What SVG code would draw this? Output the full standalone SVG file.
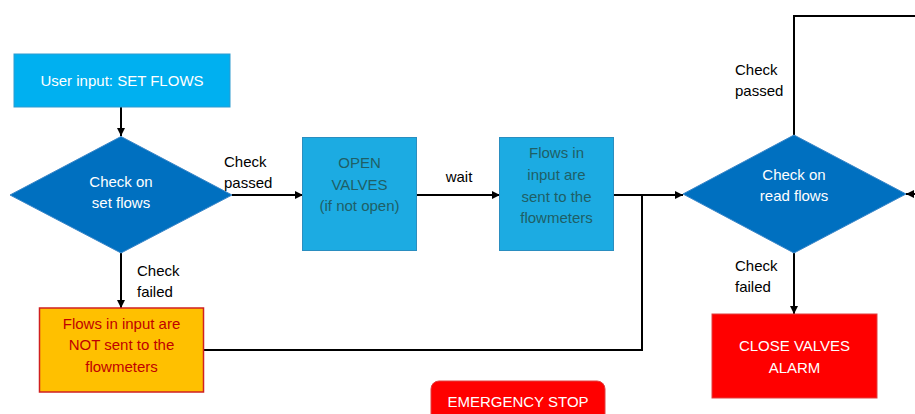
<svg xmlns="http://www.w3.org/2000/svg" width="915" height="414" viewBox="0 0 915 414">
<style>
text{font-family:"Liberation Sans",Arial,sans-serif;font-size:15px;text-anchor:middle}
.w{fill:#ffffff}
.k{fill:#000000;text-anchor:start}
.t{fill:#1f5f66}
.r{fill:#c00000}
.c{fill:none;stroke:#000000;stroke-width:2}
</style>
<defs>
<marker id="ah" viewBox="0 0 10 10" refX="10" refY="5" markerWidth="4" markerHeight="4" orient="auto" markerUnits="strokeWidth">
<path d="M0,0L10,5L0,10z" fill="#000000"/>
</marker>
</defs>
<rect width="915" height="414" fill="#ffffff"/>
<g id="connectors">
<line class="c" x1="121" y1="107" x2="121" y2="136" marker-end="url(#ah)"/>
<line class="c" x1="232" y1="195" x2="303" y2="195" marker-end="url(#ah)"/>
<line class="c" x1="417" y1="195" x2="500" y2="195" marker-end="url(#ah)"/>
<line class="c" x1="614" y1="195" x2="683" y2="195" marker-end="url(#ah)"/>
<polyline class="c" points="204,350 642,350 642,195"/>
<line class="c" x1="121" y1="253" x2="121" y2="308" marker-end="url(#ah)"/>
<polyline class="c" points="794,135 794,16 916,16"/>
<line class="c" x1="916" y1="194" x2="906" y2="194" marker-end="url(#ah)"/>
<line class="c" x1="794" y1="253" x2="794" y2="314" marker-end="url(#ah)"/>
<text class="k" x="224" y="167">Check</text>
<text class="k" x="224" y="188">passed</text>
<text x="459" y="182" style="fill:#000">wait</text>
<text class="k" x="137" y="276">Check</text>
<text class="k" x="137" y="297">failed</text>
<text class="k" x="735" y="75">Check</text>
<text class="k" x="735" y="96">passed</text>
<text class="k" x="735" y="271">Check</text>
<text class="k" x="735" y="292">failed</text>
</g>
<g id="user-input">
<rect x="14" y="54" width="216" height="53" fill="#00b0f0" stroke="#2e9bd0" stroke-width="1"/>
<text class="w" x="122" y="86">User input: SET FLOWS</text>
</g>
<g id="check-set">
<polygon points="121,136.5 232,195 121,253 10,195" fill="#0070c0" stroke="#3a86c8" stroke-width="1"/>
<text class="w" x="121" y="187">Check on</text>
<text class="w" x="121" y="208">set flows</text>
</g>
<g id="open-valves">
<rect x="302.5" y="137.5" width="114" height="113" fill="#1cabe2" stroke="#2a8ec0" stroke-width="1"/>
<text class="t" x="359.5" y="168">OPEN</text>
<text class="t" x="359.5" y="190">VALVES</text>
<text class="t" x="359.5" y="211">(if not open)</text>
</g>
<g id="flows-sent">
<rect x="499.5" y="137.5" width="114" height="113" fill="#1cabe2" stroke="#2a8ec0" stroke-width="1"/>
<text class="t" x="556.5" y="158">Flows in</text>
<text class="t" x="556.5" y="180">input are</text>
<text class="t" x="556.5" y="202">sent to the</text>
<text class="t" x="556.5" y="223">flowmeters</text>
</g>
<g id="not-sent">
<rect x="39.5" y="308" width="164" height="84" fill="#ffc000" stroke="#d02020" stroke-width="1.5"/>
<text class="r" x="121.5" y="329">Flows in input are</text>
<text class="r" x="121.5" y="350">NOT sent to the</text>
<text class="r" x="121.5" y="372">flowmeters</text>
</g>
<g id="check-read">
<polygon points="794,135 906,194 794,253 683,194" fill="#0070c0" stroke="#3a86c8" stroke-width="1"/>
<text class="w" x="794" y="180">Check on</text>
<text class="w" x="794" y="201">read flows</text>
</g>
<g id="close-valves">
<rect x="712" y="314" width="165" height="84" fill="#ff0000" stroke="#e04040" stroke-width="1"/>
<text class="w" x="794.5" y="351">CLOSE VALVES</text>
<text class="w" x="794.5" y="373">ALARM</text>
</g>
<g id="emergency-stop">
<rect x="431" y="381" width="174" height="50" rx="8" ry="8" fill="#ff0000" stroke="#e04040" stroke-width="1"/>
<text class="w" x="518" y="407">EMERGENCY STOP</text>
</g>
</svg>
